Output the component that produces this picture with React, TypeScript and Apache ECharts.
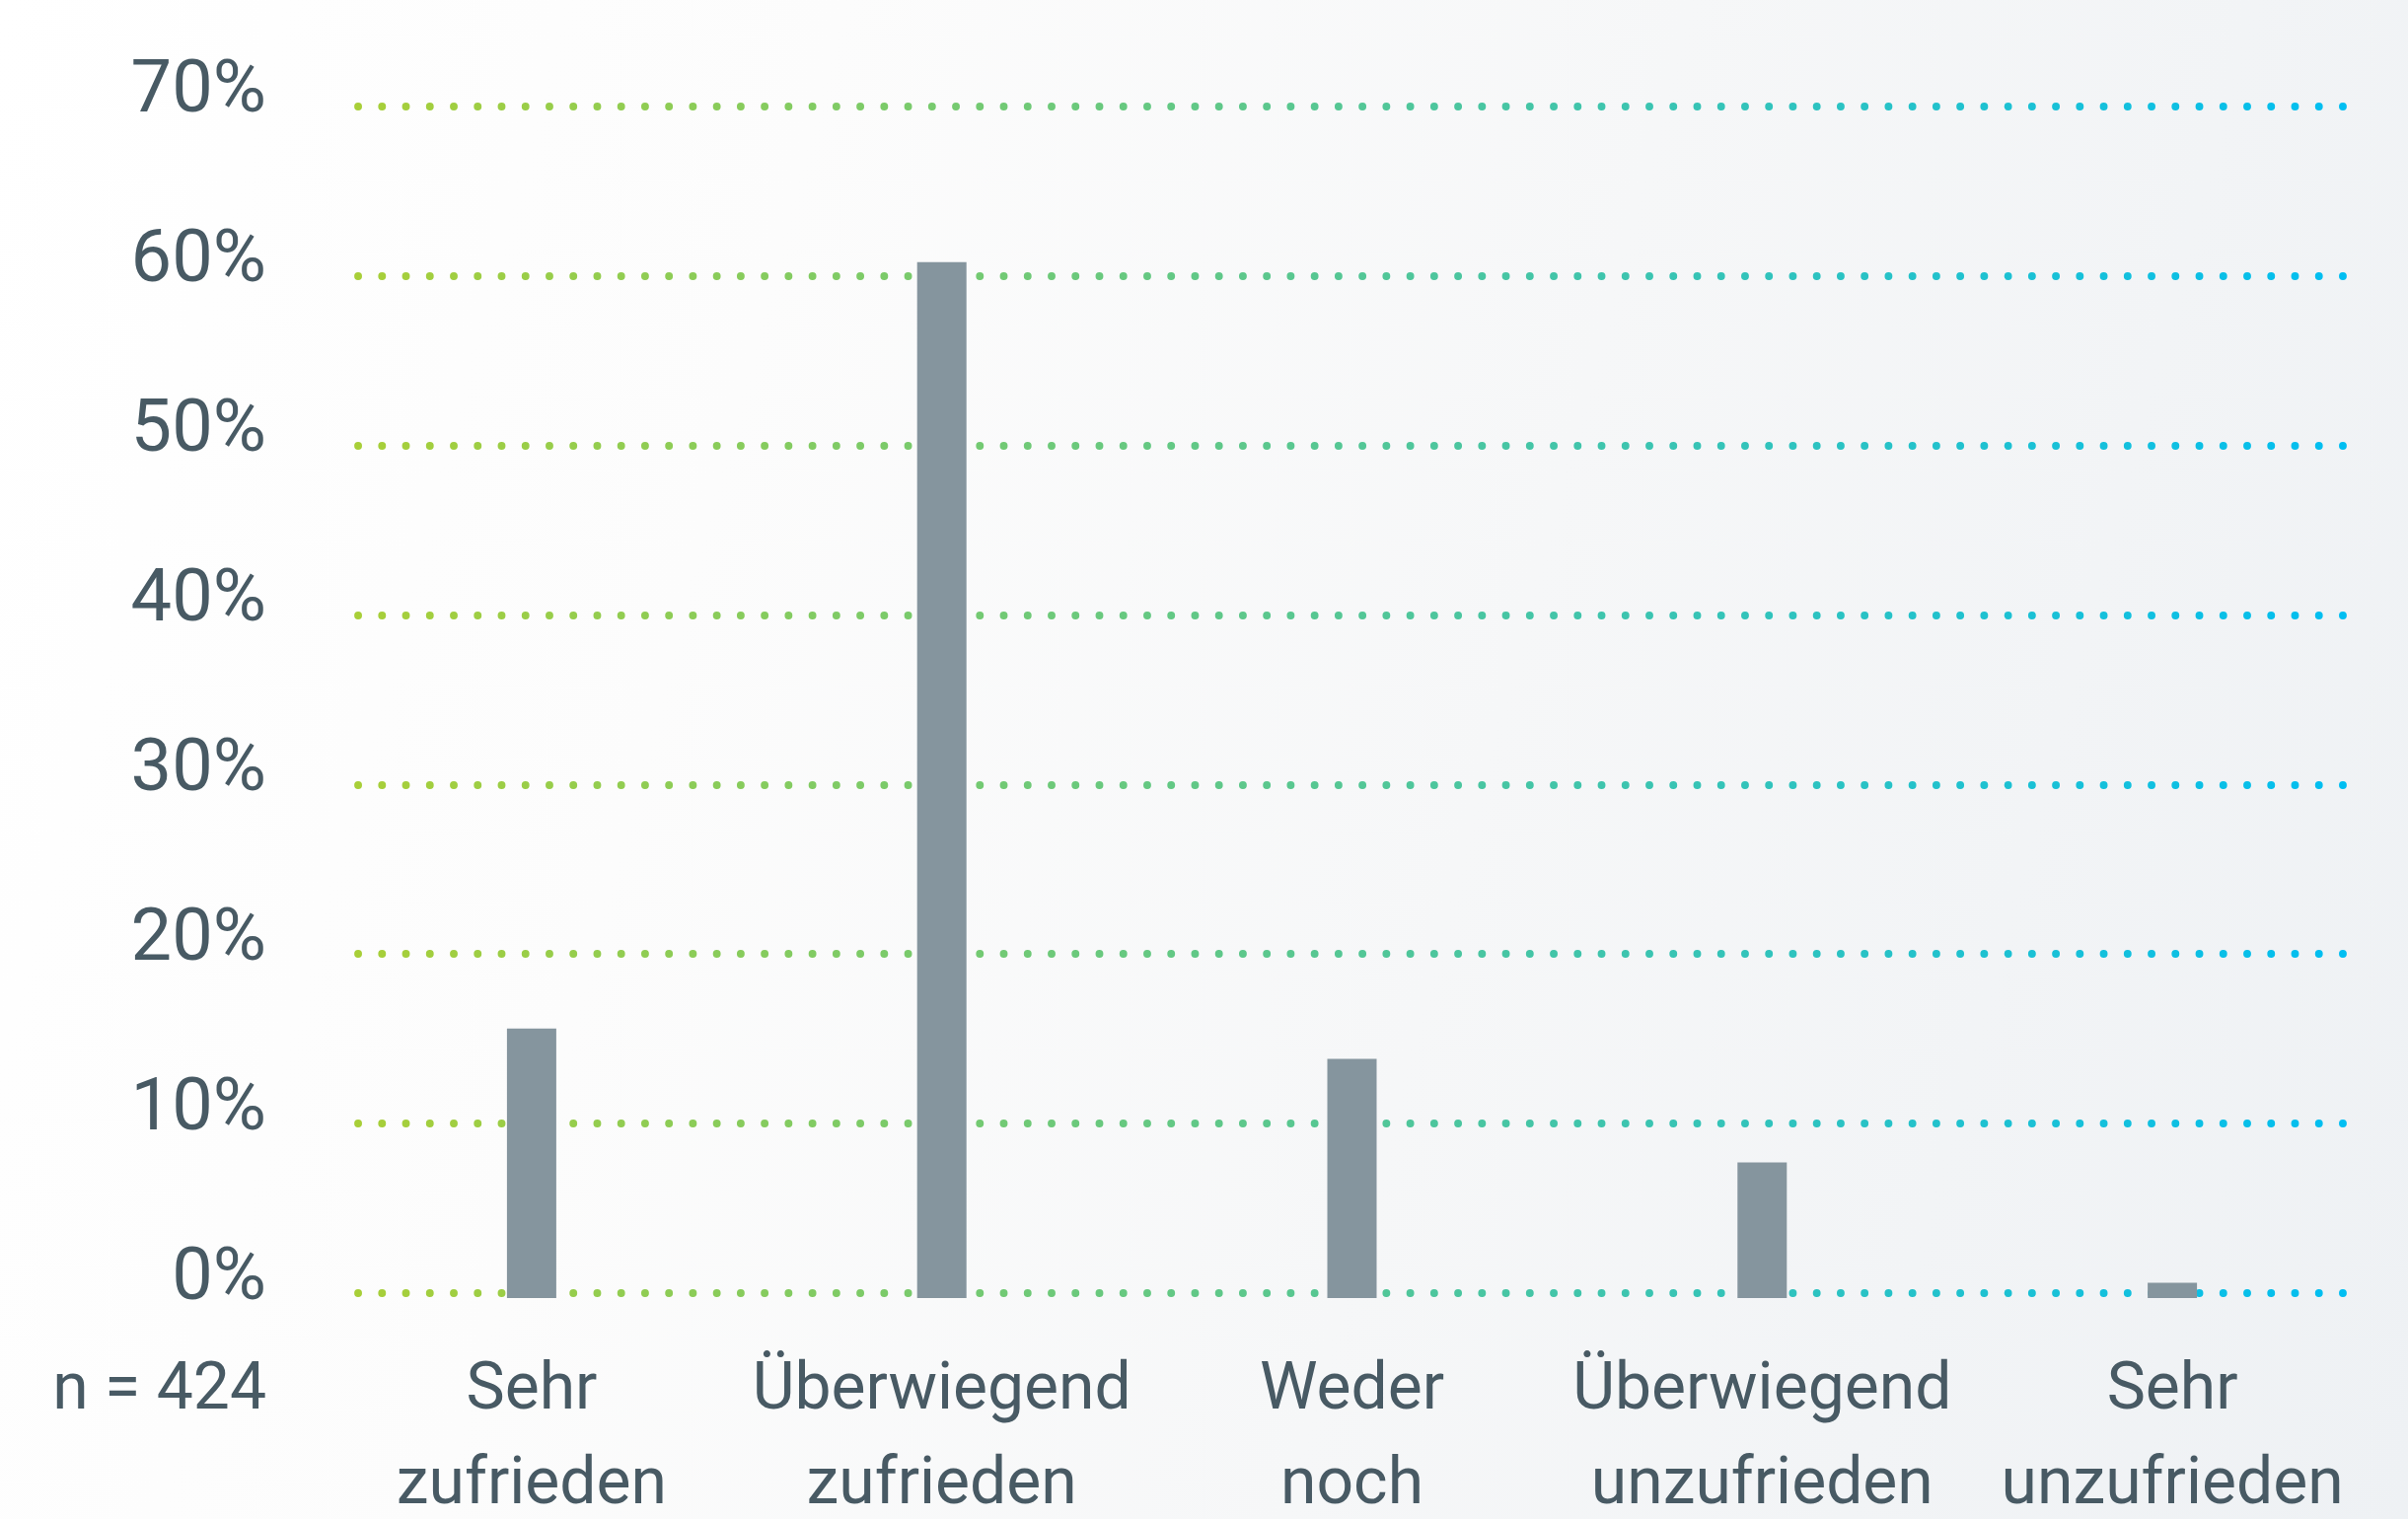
import React, { useEffect, useRef } from "react";
import * as echarts from "echarts";

const categories = [
  "Sehr\nzufrieden",
  "Überwiegend\nzufrieden",
  "Weder\nnoch",
  "Überwiegend\nunzufrieden",
  "Sehr\nunzufrieden",
];
const shares = [15.9, 61.1, 14.1, 8.0, 0.9];
const yMin = 0;
const yMax = 70;
const yStep = 10;
const sampleNote = "n = 424";

const TEXT = "#485a64";
const BAR = "#85959e";
const FONT = "Roboto, 'Open Sans', sans-serif";

export default function App() {
  const ref = useRef<HTMLDivElement>(null);
  useEffect(() => {
    if (!ref.current) return;
    const chart = echarts.init(ref.current, null, { renderer: "svg" });
    const dotGradient = new echarts.graphic.LinearGradient(
      363, 0, 2375, 0,
      [
        { offset: 0, color: "#a8cf38" },
        { offset: 1, color: "#00bef2" },
      ],
      true
    );
    chart.setOption({
      animation: false,
      backgroundColor: "transparent",
      grid: [
        { left: 331, right: 31, top: 112.7, bottom: 224, containLabel: false, outerBoundsMode: "none" },
        { left: 363, right: 66, top: 107.7, bottom: 229, containLabel: false, outerBoundsMode: "none" },
      ],
      xAxis: [
        {
          type: "category",
          gridIndex: 0,
          data: categories,
          boundaryGap: true,
          axisLine: { show: false },
          axisTick: { show: false },
          splitLine: { show: false },
          axisLabel: {
            interval: 0,
            color: TEXT,
            fontFamily: FONT,
            fontSize: 66,
            lineHeight: 96,
            margin: 41,
          },
        },
        {
          type: "value",
          gridIndex: 1,
          show: false,
          min: 0,
          max: 1,
        },
      ],
      yAxis: [
        {
          type: "value",
          gridIndex: 0,
          min: yMin,
          max: yMax,
          interval: yStep,
          show: false,
          splitLine: { show: false },
        },
        {
          type: "value",
          gridIndex: 1,
          min: yMin,
          max: yMax,
          interval: yStep,
          axisLine: { show: false },
          axisTick: { show: false },
          axisLabel: {
            formatter: "{value}%",
            color: TEXT,
            fontFamily: FONT,
            fontSize: 74,
            margin: 93,
            lineHeight: 40,
            verticalAlign: "bottom",
          },
          splitLine: {
            show: true,
            lineStyle: {
              color: dotGradient,
              width: 7.8,
              type: [0.1, 24.14],
              cap: "round",
            },
          },
        },
      ],
      graphic: [
        {
          type: "text",
          x: 270,
          y: 1405,
          style: {
            text: sampleNote,
            fill: TEXT,
            font: `66px ${FONT}`,
            textAlign: "right",
            textVerticalAlign: "middle",
          },
        },
      ],
      series: [
        {
          type: "bar",
          xAxisIndex: 0,
          yAxisIndex: 0,
          data: shares,
          barWidth: 50,
          itemStyle: { color: BAR },
        },
      ],
    });
    return () => chart.dispose();
  }, []);
  return (
    <div
      ref={ref}
      style={{
        position: "fixed",
        left: 0,
        top: 0,
        width: 2441,
        height: 1540,
        background:
          "linear-gradient(105deg, #ffffff 0%, #fcfcfc 30%, #f6f7f8 60%, #eef1f4 100%)",
      }}
    />
  );
}
